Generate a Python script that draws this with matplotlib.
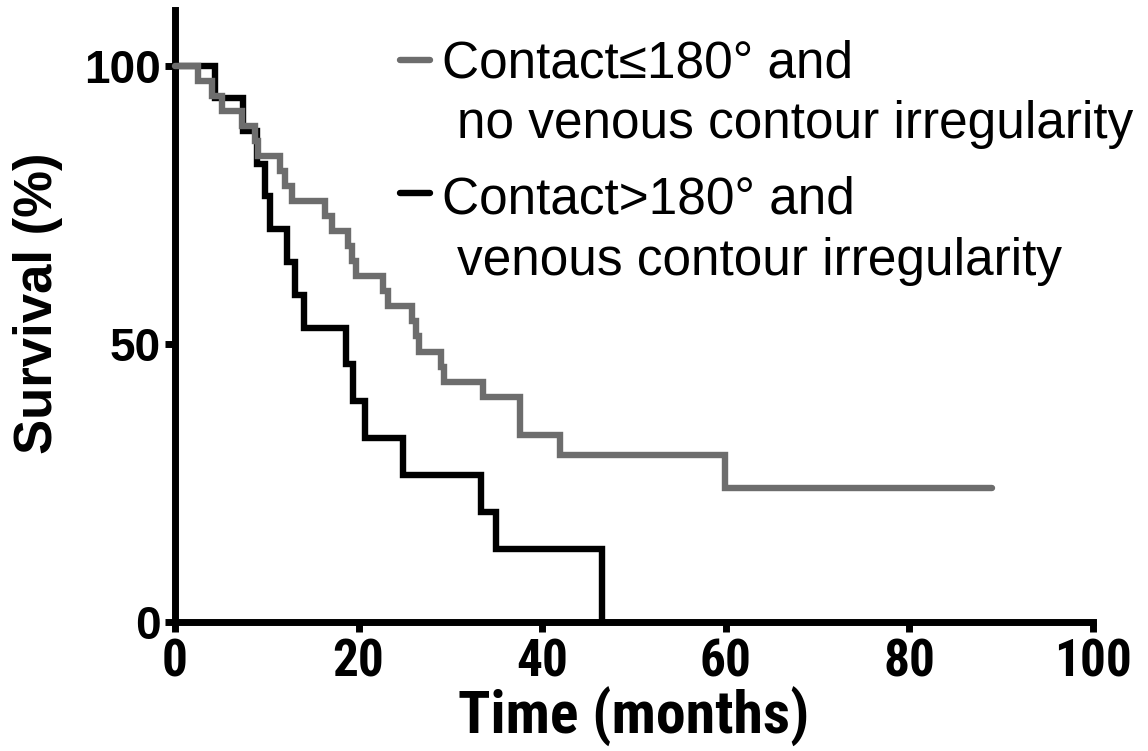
import matplotlib
matplotlib.use("Agg")
import matplotlib.pyplot as plt
from matplotlib import font_manager
from matplotlib.lines import Line2D

# Kaplan-Meier steps (time in months, survival in %)
gray_t = [0, 2.5, 4.0, 5.1, 7.3, 8.7, 9.0, 11.4, 12.0, 12.7, 16.3, 17.1, 18.8, 19.3, 19.7,
          22.7, 23.2, 25.8, 26.3, 26.6, 29.0, 29.3, 33.6, 37.6, 41.9, 59.9, 89.0]
gray_s = [100, 97.3, 94.6, 91.9, 89.2, 86.5, 83.8, 81.1, 78.4, 75.7, 73.0, 70.3, 67.6, 64.9, 62.2,
          59.5, 56.8, 54.1, 51.4, 48.6, 45.9, 43.2, 40.4, 33.7, 30.0, 24.0, 24.0]

black_t = [0, 4.4, 7.4, 8.9, 9.8, 10.4, 12.2, 13.1, 14.0, 18.6, 19.4, 20.7, 24.8, 33.3, 35.0, 46.5]
black_s = [100, 94.1, 88.2, 82.4, 76.5, 70.6, 64.7, 58.8, 52.9, 46.3, 39.7, 33.1, 26.5, 19.8, 13.2, 0]

labels = ["Contact\u2264180\u00b0 and", "no venous contour irregularity",
          "Contact>180\u00b0 and", "venous contour irregularity"]
xticks = [0, 20, 40, 60, 80, 100]
yticks = [0, 50, 100]

GRAY = "#6d6d6d"
W, H = 1148, 751

# the x axis text in the original is a condensed bold face; use one if there is any
installed = {f.name for f in font_manager.fontManager.ttflist}
condensed = [n for n in ["Liberation Sans Narrow", "Roboto Condensed", "Open Sans Condensed",
                         "DejaVu Sans Condensed"] if n in installed]
if condensed:
    xfont, xtick_size, xlabel_size = condensed[0], 37, 43
else:
    xfont, xtick_size, xlabel_size = "Liberation Sans", 32, 37

fig = plt.figure(figsize=(W / 100, H / 100), dpi=100)
ax = fig.add_axes([175 / W, 1 - 622 / H, (1093 - 175) / W, (622 - 10) / H])

ax.step(black_t, black_s, where="post", color="black", lw=4.6,
        solid_joinstyle="miter", solid_capstyle="butt", clip_on=False, zorder=3)
ax.step(gray_t, gray_s, where="post", color=GRAY, lw=4.6,
        solid_joinstyle="miter", solid_capstyle="round", clip_on=False, zorder=4)

ax.set_xlim(0, 100)
ax.set_ylim(0, 110)
for side in ["top", "right"]:
    ax.spines[side].set_visible(False)
for side in ["left", "bottom"]:
    ax.spines[side].set_linewidth(5)
ax.tick_params(direction="out", length=7, width=5)

ax.set_xticks(xticks)
ax.set_yticks(yticks)
ax.set_xticklabels([str(v) for v in xticks], fontsize=xtick_size, fontweight="bold", family=xfont)
ax.set_yticklabels([str(v) for v in yticks], fontsize=33, fontweight="bold", family="Liberation Sans")
ax.tick_params(axis="x", pad=4)
ax.tick_params(axis="y", pad=3)

ax.set_xlabel("Time (months)", fontsize=xlabel_size, fontweight="bold", family=xfont, labelpad=0)
ax.set_ylabel("Survival (%)", fontsize=38, fontweight="bold", family="Liberation Sans")
ax.yaxis.set_label_coords(-0.122, 0.521)

# legend drawn by hand: handle next to the first line of each two-line label
for y_handle, color in [(60, GRAY), (193, "black")]:
    fig.add_artist(Line2D([400 / W, 430 / W], [1 - y_handle / H] * 2, color=color,
                          lw=4.6, solid_capstyle="round"))
for (x, y), txt in zip([(442, 77), (457, 138), (442, 213), (457, 275)], labels):
    fig.text(x / W, 1 - y / H, txt, fontsize=37, family="Liberation Sans", va="baseline")

fig.savefig("out.png", dpi=100)
